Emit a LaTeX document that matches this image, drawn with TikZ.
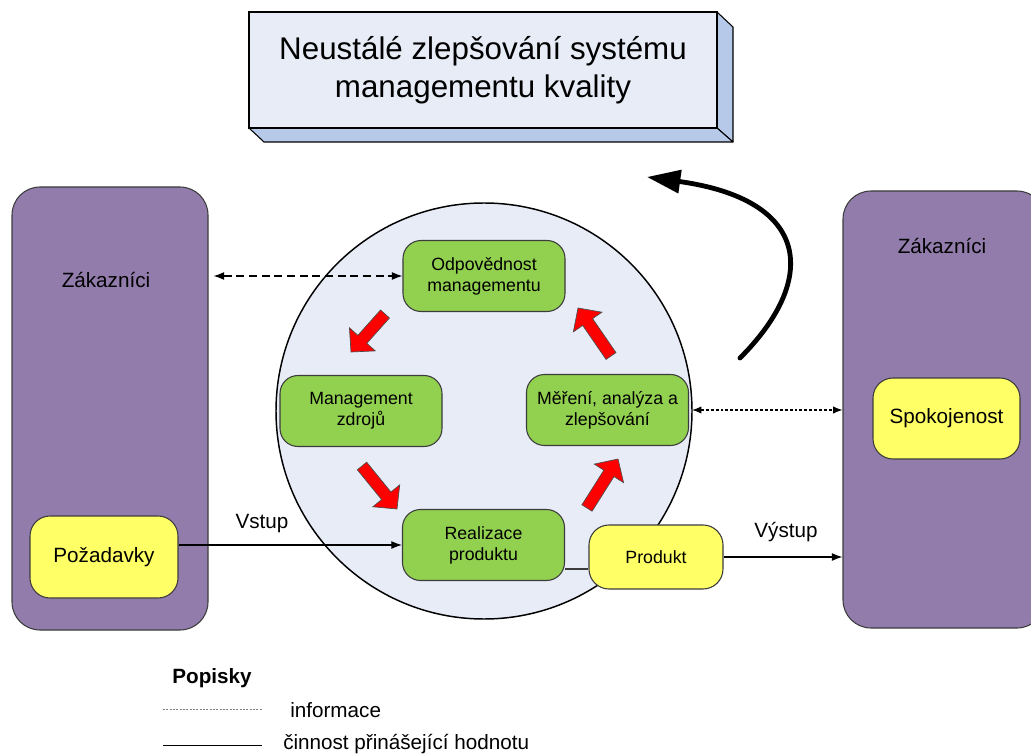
\documentclass[tikz,border=0pt]{standalone}
\usepackage{fontspec}
\setmainfont{Liberation Sans}
\usetikzlibrary{arrows.meta,calc}
\definecolor{purp}{RGB}{146,124,172}
\definecolor{grn}{RGB}{146,208,80}
\definecolor{yel}{RGB}{255,255,102}
\definecolor{pale}{RGB}{231,236,247}
\definecolor{side}{RGB}{182,201,232}
\definecolor{edge}{RGB}{60,60,60}
\definecolor{redfill}{RGB}{255,0,0}
\newcommand\redarrow[2]{%
  \coordinate (ra-n) at ($(#2)!12.75pt!(#1)$);
  \filldraw[redarr] ($(#1)!4.5pt!90:(#2)$) -- ($(ra-n)!4.5pt!90:(#2)$) -- ($(ra-n)!13pt!90:(#2)$) -- (#2)
   -- ($(ra-n)!13pt!-90:(#2)$) -- ($(ra-n)!4.5pt!-90:(#2)$) -- ($(#1)!4.5pt!-90:(#2)$) -- cycle;}
\tikzset{
  purpbox/.style={draw=edge, fill=purp, rounded corners=21pt, line width=0.8pt, inner sep=0pt},
  greenbox/.style={draw=edge, fill=grn, rounded corners=13.5pt, minimum width=121.5pt, minimum height=53.25pt,
     align=center, inner sep=0pt, line width=0.8pt, font=\fontsize{13.3}{15.75}\selectfont},
  yelbox/.style={draw=edge, fill=yel, rounded corners=15pt, inner sep=0pt, line width=0.8pt,
     font=\fontsize{15.5}{18}\selectfont},
  lbl/.style={inner sep=0pt, font=\fontsize{15.5}{18}\selectfont},
  redarr/.style={fill=redfill, draw=black!70, line width=0.5pt, line join=miter},
  flow/.style={line width=0.9pt, -{Latex[length=8pt,width=6pt]}},
  infodash/.style={line width=0.9pt, dash pattern=on 6pt off 3.5pt, {Latex[length=8pt,width=6pt]}-{Latex[length=8pt,width=6pt]}},
  infodot/.style={line width=0.9pt, dash pattern=on 2.2pt off 1.5pt, {Latex[length=7pt,width=5.5pt]}-{Latex[length=7pt,width=5.5pt]}},
}
\begin{document}
\begin{tikzpicture}[x=0.75pt,y=-0.75pt]
\clip (0,0) rectangle (1031,755);
\fill[white] (0,0) rectangle (1031,755);

% title 3D box
\filldraw[fill=side, draw=black, line width=0.8pt, line join=round] (717,12) -- (733,27) -- (733,142) -- (717,128) -- cycle;
\filldraw[fill=side, draw=black, line width=0.8pt, line join=round] (249,128) -- (717,128) -- (733,142) -- (264,142) -- cycle;
\node[draw=black, fill=pale, line width=0.8pt, minimum width=351pt, minimum height=87pt, inner sep=0pt,
  align=center, font=\fontsize{23.5}{28.5}\selectfont] (title) at (483,70) {Neustálé zlepšování systému\\managementu kvality};

% customers
\node[purpbox, minimum width=147pt, minimum height=332.25pt] (custL) at (110,408.5) {};
\node[lbl] (custLt) at (106,280) {Zákazníci};
\node[purpbox, minimum width=151.5pt, minimum height=327.75pt] (custR) at (944,409.5) {};
\node[lbl] (custRt) at (942,246) {Zákazníci};

% circle
\node[circle, draw=black, fill=pale, line width=1.1pt, minimum size=312pt, inner sep=0pt] (circ) at (484,411) {};

% green process boxes
\node[greenbox] (odp) at (484,276) {Odpovědnost\\managementu};
\node[greenbox] (zdr) at (361,411) {Management\\zdrojů};
\node[greenbox] (mer) at (607.5,410) {Měření, analýza a\\zlepšování};
\node[greenbox] (real) at (483.5,545) {Realizace\\produktu};

% red cycle arrows
\coordinate (r1a) at (385,314); \coordinate (r1b) at (351,352);
\coordinate (r2a) at (362,466); \coordinate (r2b) at (397,509);
\coordinate (r3a) at (587,508); \coordinate (r3b) at (618,459);
\coordinate (r4a) at (611,356); \coordinate (r4b) at (578,308);
\redarrow{r1a}{r1b}
\redarrow{r2a}{r2b}
\redarrow{r3a}{r3b}
\redarrow{r4a}{r4b}

% yellow boxes
\coordinate (pl) at ($(real.south east)+(0,-12)$);
\node[yelbox, minimum width=100.5pt, minimum height=48pt, font=\fontsize{13.3}{16}\selectfont] (prod) at (656,557) {Produkt};
\draw[edge, line width=1pt] (pl) -- (prod.west |- pl);
\node[yelbox, minimum width=111pt, minimum height=61.5pt] (poz) at (104,557) {Požadavky};
\node[yelbox, minimum width=110.25pt, minimum height=60.75pt] (spok) at (946.5,418.5) {Spokojenost};

% flows
\draw[flow] (poz.east |- real.west) -- (real.west);
\node[lbl] (vstup) at (262,524) {Vstup};
\draw[flow] (prod.east) -- (custR.west |- prod.east);
\node[lbl] (vystup) at (786,532) {Výstup};

% information
\coordinate (iL) at ($(custL.east |- odp.west)+(5,0)$);
\draw[infodash] (iL) -- (odp.west);
\coordinate (iR) at ($(mer.east)+(3,0)$);
\draw[infodot] (iR) -- (custR.west |- iR);

% improvement arrow
\coordinate (ca) at (740,358);
\coordinate (cb) at (647,177);
\draw[line width=3.6pt, line cap=round, -{Triangle[length=25pt,width=17pt]}] (ca) .. controls (818,280) and (812,200) .. (cb);

% legend
\node[lbl, font=\bfseries\fontsize{15.5}{18}\selectfont] (leg) at (212,678) {Popisky};
\coordinate (l1a) at (163,709); \coordinate (l1b) at (262,709);
\draw[gray, line width=0.7pt, dash pattern=on 1.5pt off 1pt] (l1a) -- (l1b);
\node[lbl, anchor=west] (l1t) at (290,710) {informace};
\coordinate (l2a) at (163,745); \coordinate (l2b) at (262,745);
\draw[line width=0.75pt] (l2a) -- (l2b);
\node[lbl, anchor=west] (l2t) at (283,744) {činnost přinášející hodnotu};
\end{tikzpicture}
\end{document}
